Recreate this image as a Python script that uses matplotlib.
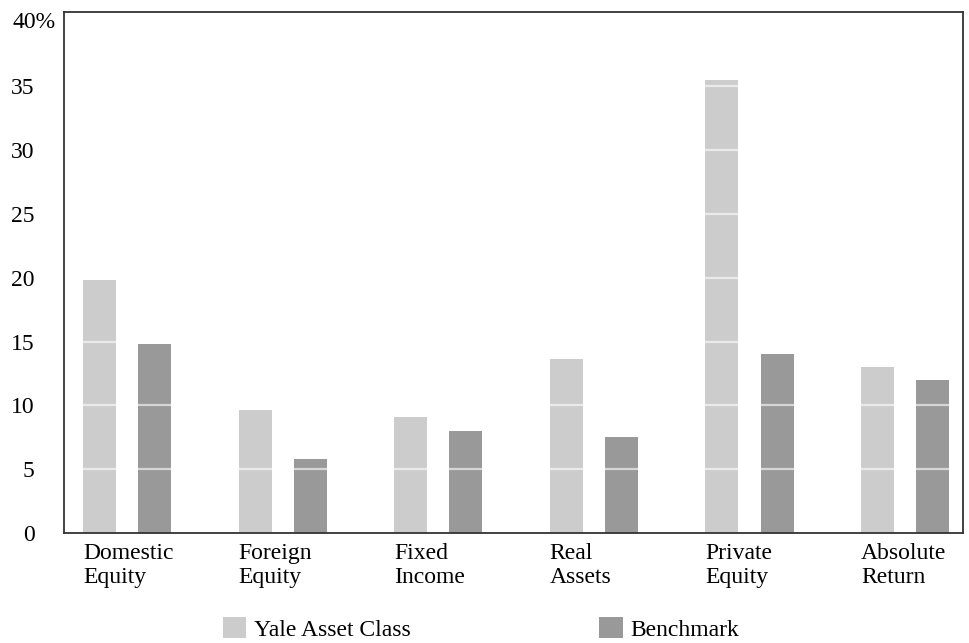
import matplotlib.pyplot as plt
import numpy as np

plt.rcParams["font.family"] = ["Liberation Serif", "DejaVu Serif"]

categories = ["Domestic\nEquity", "Foreign\nEquity", "Fixed\nIncome",
              "Real\nAssets", "Private\nEquity", "Absolute\nReturn"]
yale = [19.8, 9.6, 9.1, 13.6, 35.5, 13.0]
benchmark = [14.8, 5.8, 8.0, 7.5, 14.0, 12.0]
y_ticks = [0, 5, 10, 15, 20, 25, 30, 35]

light = "#cccccc"
dark = "#999999"

fig = plt.figure(figsize=(9.69, 6.43), dpi=100)
ax = fig.add_axes([0.066, 0.171, 0.928, 0.810])

x = np.arange(len(categories))
width = 0.212
offset = 0.177
ax.bar(x - offset, yale, width, color=light, label="Yale Asset Class", zorder=1)
ax.bar(x + offset, benchmark, width, color=dark, label="Benchmark", zorder=1)

# white rules across the bars
for t in y_ticks[1:]:
    ax.axhline(t, color="white", lw=1.6, alpha=0.6, zorder=2)

ax.set_xlim(-0.405, 5.373)
ax.set_ylim(0, 40.8)

ax.set_yticks(y_ticks)
ax.set_yticklabels([str(t) for t in y_ticks], fontsize=17)
ax.text(-0.0567, 40, "40%", transform=ax.get_yaxis_transform(),
        ha="left", va="center", fontsize=17)
ax.tick_params(axis="y", length=0, pad=21)

ax.set_xticks(x - offset - width / 2)
ax.set_xticklabels(categories, fontsize=17, ha="left", linespacing=1.2)
ax.tick_params(axis="x", length=0, pad=7)

for s in ax.spines.values():
    s.set_color("#333333")
    s.set_linewidth(1.3)

ax.legend(loc="upper left", bbox_to_anchor=(0.230, 0.040),
          bbox_transform=fig.transFigure, ncol=2, frameon=False,
          fontsize=17, handlelength=1.0, handleheight=1.0,
          handletextpad=0.3, columnspacing=8.0,
          borderpad=0, borderaxespad=0)

fig.savefig("out.png", dpi=100)
